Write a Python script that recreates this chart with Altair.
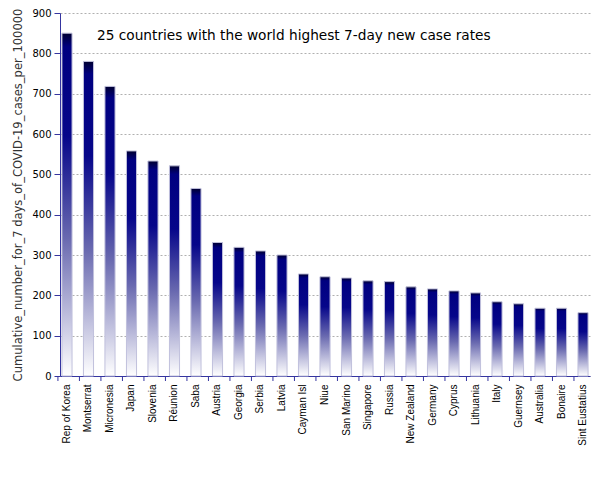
import altair as alt
import pandas as pd

countries = ["Rep of Korea", "Montserrat", "Micronesia", "Japan", "Slovenia", "Réunion",
             "Saba", "Austria", "Georgia", "Serbia", "Latvia", "Cayman Isl", "Niue",
             "San Marino", "Singapore", "Russia", "New Zealand", "Germany", "Cyprus",
             "Lithuania", "Italy", "Guernsey", "Australia", "Bonaire", "Sint Eustatius"]
values = [850, 780, 718, 558, 533, 521, 465, 331, 319, 310, 300, 253, 246, 243, 236,
          234, 221, 216, 211, 206, 184, 179, 168, 168, 157]

df = pd.DataFrame({"country": countries, "value": values})

grad = alt.Gradient(
    gradient="linear", x1=0, x2=0, y1=0, y2=1,
    stops=[
        alt.GradientStop(color="#000030", offset=0),
        alt.GradientStop(color="#000080", offset=0.04),
        alt.GradientStop(color="#06068a", offset=0.3),
        alt.GradientStop(color="#6a6ab0", offset=0.6),
        alt.GradientStop(color="#c8c8e2", offset=0.85),
        alt.GradientStop(color="#ffffff", offset=1),
    ],
)

xscale = alt.Scale(paddingInner=0.53, paddingOuter=0.09)
axis_color = "#3535a0"
yscale = alt.Scale(domain=[0, 900], nice=False)

bars = alt.Chart(df).mark_bar(color=grad, stroke="#c0c0dc", strokeWidth=1).encode(
    x=alt.X("country:N", sort=countries, title=None, scale=xscale,
            axis=alt.Axis(labelAngle=-90, labelFontSize=10, labelFont="Liberation Sans",
                          labelColor="#000000", domainColor=axis_color,
                          ticks=False, labelPadding=8, grid=False)),
    y=alt.Y("value:Q", title="Cumulative_number_for_7 days_of_COVID-19_cases_per_100000",
            scale=yscale,
            axis=alt.Axis(values=list(range(0, 901, 100)), labelFontSize=10,
                          labelFont="DejaVu Sans", labelColor="#000000",
                          domainColor=axis_color, tickColor=axis_color, tickSize=6,
                          labelPadding=3,
                          titleFontSize=11.5, titleFont="DejaVu Sans", titleColor="#333333",
                          titleFontWeight="normal", titlePadding=8,
                          grid=True, gridDash=[2, 2], gridColor="#b0b0b0")),
)

ticks = alt.Chart(df).mark_rule(color=axis_color, strokeWidth=1, xOffset=-4).encode(
    x=alt.X("country:N", sort=countries, scale=xscale, bandPosition=0),
    y=alt.value(363), y2=alt.value(368),
)

title = alt.Chart(pd.DataFrame({"t": ["25 countries with the world highest 7-day new case rates"]})).mark_text(
    align="left", baseline="middle", fontSize=13.7, font="DejaVu Sans", color="#000000"
).encode(text="t:N", x=alt.value(37), y=alt.value(23))

chart = alt.layer(bars, ticks, title).properties(
    width=530, height=363,
    padding={"left": 52, "top": 5, "right": 4, "bottom": 100},
    autosize=alt.AutoSizeParams(type="none"),
).configure_view(stroke=None)

chart.save("out.html", embed_options={"renderer": "svg", "actions": False})
